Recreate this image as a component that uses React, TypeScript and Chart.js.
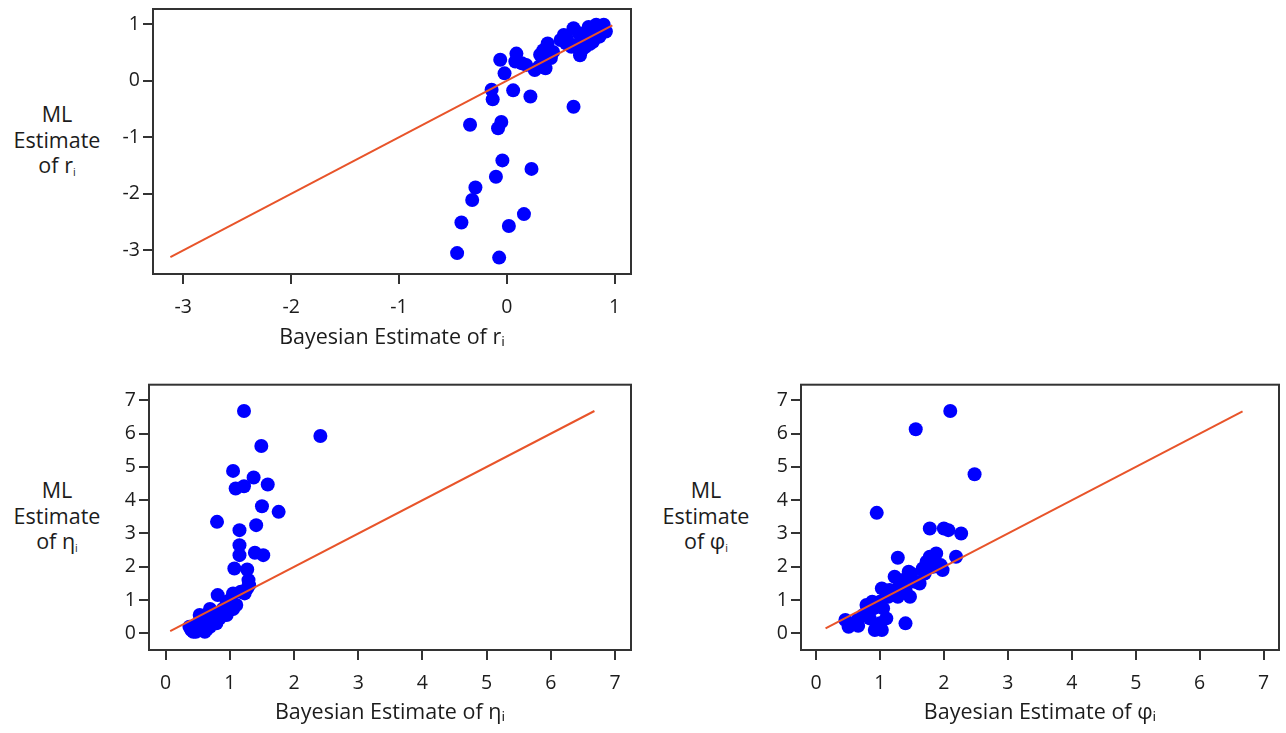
import React, { useEffect, useRef } from 'react'
import { Chart, registerables } from 'chart.js'

Chart.register(...registerables)

// r_i panel
const rBayes = [-0.46, -0.07, -0.42, 0.02, 0.16, -0.32, -0.29, -0.10, -0.04, 0.23, -0.34, -0.08, -0.05, -0.13, -0.14, 0.06, 0.22, 0.62, -0.06, -0.02,
  0.09, 0.08, 0.14, 0.18, 0.26, 0.30, 0.36, 0.36, 0.31, 0.38, 0.34, 0.41, 0.43, 0.53, 0.56, 0.62, 0.67, 0.68, 0.65, 0.73, 0.76, 0.79, 0.83, 0.90,
  0.86, 0.80, 0.92, 0.50, 0.60, 0.74, 0.83, 0.88, 0.55, 0.70, 0.77]
const rML = [-3.05, -3.13, -2.51, -2.57, -2.36, -2.11, -1.89, -1.70, -1.41, -1.56, -0.78, -0.84, -0.73, -0.33, -0.16, -0.17, -0.28, -0.46, 0.37, 0.13,
  0.48, 0.34, 0.31, 0.28, 0.19, 0.25, 0.22, 0.37, 0.46, 0.66, 0.54, 0.40, 0.51, 0.81, 0.74, 0.93, 0.84, 0.45, 0.63, 0.60, 0.95, 0.84, 0.99, 0.99,
  0.78, 0.69, 0.87, 0.72, 0.60, 0.72, 0.84, 0.90, 0.66, 0.55, 0.65]
const rDiag = [-3.12, 0.98]

// eta_i panel
const etaBayes = [1.22, 2.41, 1.49, 1.05, 1.37, 1.59, 1.09, 1.22, 1.50, 1.76, 0.80, 1.41, 1.15, 1.15, 1.15, 1.39, 1.52, 1.07, 1.27, 1.29, 1.27, 1.23,
  0.81, 1.05, 1.10, 0.99, 0.89, 0.76, 0.69, 0.84, 0.61, 0.53, 0.48, 0.43, 0.61, 0.69, 0.37, 0.45, 0.79, 0.89, 1.05, 1.17, 1.30, 0.95, 1.00, 0.55,
  0.65, 0.72, 0.40, 0.50, 0.58, 0.64, 0.92, 0.47, 0.55, 0.70, 0.75, 0.80, 0.85, 0.95, 1.00, 0.60, 0.68]
const etaML = [6.68, 5.93, 5.63, 4.88, 4.68, 4.47, 4.35, 4.42, 3.82, 3.65, 3.35, 3.25, 3.10, 2.65, 2.35, 2.42, 2.35, 1.95, 1.92, 1.60, 1.35, 1.20,
  1.15, 1.20, 0.85, 0.70, 0.73, 0.60, 0.73, 0.45, 0.40, 0.55, 0.25, 0.05, 0.05, 0.20, 0.20, 0.15, 0.30, 0.55, 0.73, 1.25, 1.45, 0.95, 1.00, 0.30,
  0.55, 0.35, 0.10, 0.15, 0.15, 0.12, 0.62, 0.05, 0.10, 0.30, 0.45, 0.50, 0.60, 0.55, 0.70, 0.35, 0.50]
const etaDiag = [0.07, 6.68]

// phi_i panel
const phiBayes = [2.10, 1.56, 2.48, 0.95, 1.78, 2.00, 2.07, 2.27, 2.19, 1.28, 1.78, 1.88, 1.73, 1.83, 1.98, 1.67, 1.49, 1.23, 1.36, 1.62, 1.03,
  1.20, 1.28, 1.47, 1.13, 1.00, 0.79, 0.90, 0.74, 0.84, 1.10, 0.46, 0.51, 0.66, 0.92, 1.03, 1.00, 1.40, 0.65, 1.45, 1.55, 1.70, 1.85, 1.75, 1.95,
  1.40, 1.30, 0.88, 1.05, 1.15]
const phiML = [6.68, 6.13, 4.78, 3.62, 3.15, 3.15, 3.10, 3.00, 2.30, 2.27, 2.30, 2.40, 2.15, 2.00, 1.90, 1.95, 1.80, 1.70, 1.60, 1.50, 1.35,
  1.25, 1.10, 1.10, 1.10, 0.95, 0.85, 0.75, 0.55, 0.45, 0.45, 0.40, 0.20, 0.23, 0.10, 0.10, 0.30, 0.30, 0.40, 1.85, 1.55, 1.80, 2.20, 2.00, 2.05,
  1.30, 1.40, 0.95, 0.75, 1.30]
const phiDiag = [0.15, 6.67]

const FONT = '"Open Sans", "Noto Sans", sans-serif'
const TEXT = '#1c1c1c'
const AXIS = '#333333'

const framePlugin = {
  id: 'frame',
  beforeDatasetsDraw(chart: any) {
    const { ctx, chartArea: a } = chart
    ctx.save()
    ctx.strokeStyle = AXIS
    ctx.lineWidth = 2
    ctx.strokeRect(a.left, a.top, a.right - a.left, a.bottom - a.top)
    ctx.restore()
  },
}

interface Panel {
  xs: number[]
  ys: number[]
  diag: number[]
  xTitle: string
  xMin: number
  xMax: number
  yMin: number
  yMax: number
  yWidth: number
  xHeight: number
  padTop: number
  padRight: number
  titlePad: number
}

function ScatterPanel({ p, left, top, width, height }: { p: Panel; left: number; top: number; width: number; height: number }) {
  const canvasRef = useRef<HTMLCanvasElement>(null)

  useEffect(() => {
    if (!canvasRef.current) return
    const grid = { display: true, drawOnChartArea: false, drawTicks: true, tickLength: 10, color: AXIS, lineWidth: 2 }
    const chart = new Chart(canvasRef.current, {
      type: 'scatter',
      data: {
        datasets: [
          {
            type: 'line',
            data: p.diag.map(v => ({ x: v, y: v })),
            borderColor: '#e8542a',
            borderWidth: 2,
            pointRadius: 0,
            showLine: true,
            order: 0,
          },
          {
            data: p.xs.map((x, i) => ({ x, y: p.ys[i] })),
            backgroundColor: '#0000ff',
            borderWidth: 0,
            pointRadius: 7,
            pointHoverRadius: 7,
            order: 1,
          },
        ],
      } as any,
      options: {
        animation: false,
        responsive: true,
        maintainAspectRatio: false,
        layout: { padding: { top: p.padTop, right: p.padRight, left: 0, bottom: 0 } },
        plugins: { legend: { display: false }, tooltip: { enabled: false } },
        scales: {
          x: {
            type: 'linear',
            min: p.xMin,
            max: p.xMax,
            afterFit: (s: any) => { s.height = p.xHeight },
            ticks: { stepSize: 1, includeBounds: false, padding: 12, color: TEXT, font: { family: FONT, size: 19.5 } },
            grid,
            border: { display: false },
            title: { display: true, text: p.xTitle, color: TEXT, font: { family: FONT, size: 21.5 }, padding: { top: 0, bottom: p.titlePad } },
          },
          y: {
            type: 'linear',
            min: p.yMin,
            max: p.yMax,
            afterFit: (s: any) => { s.width = p.yWidth },
            ticks: { stepSize: 1, includeBounds: false, padding: 3, color: TEXT, font: { family: FONT, size: 19.5 } },
            grid,
            border: { display: false },
          },
        },
      } as any,
      plugins: [framePlugin],
    })
    return () => chart.destroy()
  }, [p])

  return (
    <div style={{ position: 'absolute', left, top, width, height }}>
      <canvas ref={canvasRef} />
    </div>
  )
}

const rPanel: Panel = { xs: rBayes, ys: rML, diag: rDiag, xTitle: 'Bayesian Estimate of rᵢ', xMin: -3.281, xMax: 1.153, yMin: -3.42, yMax: 1.269, yWidth: 153, xHeight: 91, padTop: 15, padRight: 19, titlePad: 14 }
const etaPanel: Panel = { xs: etaBayes, ys: etaML, diag: etaDiag, xTitle: 'Bayesian Estimate of ηᵢ', xMin: -0.26, xMax: 7.25, yMin: -0.5, yMax: 7.47, yWidth: 149, xHeight: 83, padTop: 14, padRight: 19, titlePad: 7 }
const phiPanel: Panel = { xs: phiBayes, ys: phiML, diag: phiDiag, xTitle: 'Bayesian Estimate of φᵢ', xMin: -0.234, xMax: 7.24, yMin: -0.5, yMax: 7.47, yWidth: 141, xHeight: 83, padTop: 14, padRight: 5, titlePad: 7 }

function YLabel({ sym, left, top }: { sym: string; left: number; top: number }) {
  return (
    <div style={{ position: 'absolute', left, top, width: 114, textAlign: 'center', fontSize: 21.5, lineHeight: '25.5px', color: TEXT }}>
      ML<br />Estimate<br />of {sym}<sub style={{ fontSize: '0.5em', verticalAlign: '-0.3em' }}>i</sub>
    </div>
  )
}

export default function App() {
  return (
    <div style={{ position: 'fixed', left: 0, top: 0, width: 1286, height: 733, background: '#fff', fontFamily: FONT, overflow: 'hidden' }}>
      <YLabel sym="r" left={0} top={101} />
      <YLabel sym="η" left={0} top={477} />
      <YLabel sym="φ" left={649} top={477} />
      <ScatterPanel p={rPanel} left={0} top={-6} width={650} height={371} />
      <ScatterPanel p={etaPanel} left={0} top={370} width={650} height={363} />
      <ScatterPanel p={phiPanel} left={660} top={370} width={626} height={363} />
    </div>
  )
}
